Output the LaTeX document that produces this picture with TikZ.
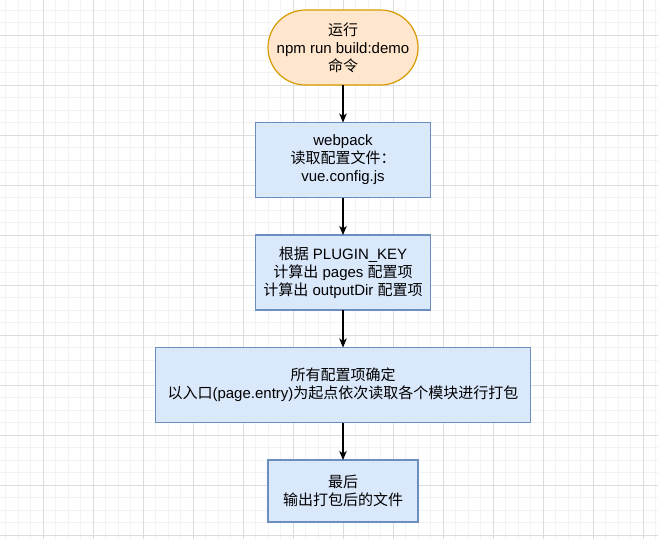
\documentclass[tikz,border=0pt]{standalone}
\usepackage{fontspec}
\setmainfont{Liberation Sans}
\newfontfamily\cjk{Noto Sans CJK SC}
\usetikzlibrary{positioning, arrows.meta}

\definecolor{termfill}{HTML}{FFE6CC}
\definecolor{termline}{HTML}{D79B00}
\definecolor{procfill}{HTML}{DAE8FC}
\definecolor{procline}{HTML}{6C8EBF}
\definecolor{gridminor}{HTML}{F3F3F3}
\definecolor{gridmajor}{HTML}{DCDCDC}

\begin{document}
\begin{tikzpicture}[x=1pt, y=-1pt, node distance=37.5pt, auto,
        font=\fontsize{15pt}{18pt}\selectfont]
        \tikzset{proc/.style={rectangle, draw=procline, fill=procfill, line width=1.2pt,
                minimum height=75pt, align=center, inner sep=0pt, outer sep=0pt}}
        \tikzset{term/.style={proc, draw=termline, fill=termfill, rounded corners=37.5pt}}
        \tikzset{flow/.style={-{Stealth[length=9pt, width=7.5pt, inset=2.5pt]}, line width=1.2pt}}
        \useasboundingbox (0,0) rectangle (658,539);
        \fill[white] (0,0) rectangle (658,539);
        % grid
        \foreach \x in {5.5,18,...,658} \draw[gridminor, line width=0.7pt] (\x,0) -- (\x,539);
        \foreach \y in {10,22.5,...,539} \draw[gridminor, line width=0.7pt] (0,\y) -- (658,\y);
        \foreach \x in {43,93,...,643} \draw[gridmajor, line width=0.7pt] (\x,0) -- (\x,539);
        \foreach \y in {35,85,...,535} \draw[gridmajor, line width=0.7pt] (0,\y) -- (658,\y);

        \node[term, minimum width=150pt] (run) at (343,47.5)
                {{\cjk 运行}\\npm run build:demo\\{\cjk 命令}};
        \node[proc, minimum width=175pt] (read) [below=of run]
                {webpack\\{\cjk 读取配置文件：}\\vue.config.js};
        \node[proc, minimum width=175pt] (calc) [below=of read]
                {{\cjk 根据} PLUGIN\_KEY\\{\cjk 计算出} pages {\cjk 配置项}\\{\cjk 计算出} outputDir {\cjk 配置项}};
        \node[proc, minimum width=375pt] (pack) [below=of calc]
                {{\cjk 所有配置项确定}\\{\cjk 以入口}(page.entry){\cjk 为起点依次读取各个模块进行打包}};
        \node[proc, minimum width=150pt, minimum height=62pt] (done) [below=of pack]
                {{\cjk 最后}\\{\cjk 输出打包后的文件}};
        \path[flow]
        (run) edge (read)
        (read) edge (calc)
        (calc) edge (pack)
        (pack) edge (done);
    \end{tikzpicture}
\end{document}
